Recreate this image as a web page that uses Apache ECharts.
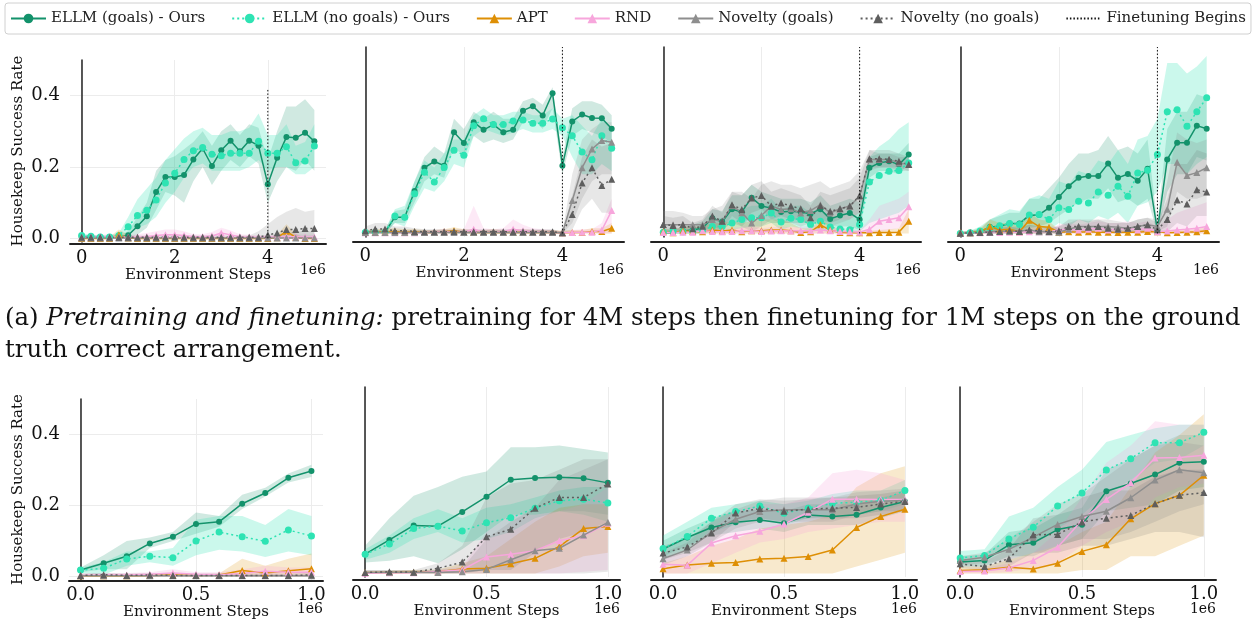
<!DOCTYPE html>
<html lang="en">
<head>
<meta charset="UTF-8">
<script src="https://cdn.jsdelivr.net/npm/echarts@6/dist/echarts.min.js"></script>
<style>html,body{margin:0;padding:0;background:#fff;}</style>
</head>
<body>
<div id="main" style="width:1256px;height:623px;"></div>
<script type="text/javascript">
// environment steps (x 1e6)
var stepsPre = [0,0.2,0.4,0.6,0.8,1,1.2,1.4,1.6,1.8,2,2.2,2.4,2.6,2.8,3,3.2,3.4,3.6,3.8,4,4.2,4.4,4.6,4.8,5];
var stepsFt = [0,0.1,0.2,0.3,0.4,0.5,0.6,0.7,0.8,0.9,1];
var zeroPre = [0,0,0,0,0,0,0,0,0,0,0,0,0,0,0,0,0,0,0,0,0,0,0,0,0,0];
var zeroFt = [0,0,0,0,0,0,0,0,0,0,0];
var finetuneStep = 4;
var finetuneTop = [0.42, 0.536, 0.536, 0.536];

// ---- (a) pretraining + finetuning, panel 1
var a1Goals = [0.005,0.004,0.003,0.003,0.003,0.009,0.034,0.062,0.130,0.172,0.172,0.178,0.221,0.252,0.203,0.247,0.274,0.244,0.274,0.260,0.152,0.226,0.284,0.282,0.296,0.272];
var a1GoalsLo = [0.001,0.001,0,0,0,0,0.01,0.03,0.08,0.13,0.12,0.10,0.16,0.20,0.15,0.19,0.22,0.20,0.23,0.21,0.10,0.16,0.20,0.19,0.22,0.19];
var a1GoalsHi = [0.01,0.008,0.006,0.006,0.008,0.02,0.06,0.10,0.19,0.22,0.23,0.25,0.27,0.30,0.26,0.30,0.32,0.29,0.32,0.31,0.22,0.30,0.37,0.37,0.39,0.36];
var a1NoGoals = [0.008,0.006,0.004,0.004,0.008,0.033,0.064,0.079,0.108,0.155,0.183,0.221,0.246,0.255,0.236,0.232,0.239,0.239,0.239,0.272,0.239,0.239,0.257,0.212,0.217,0.259];
var a1NoGoalsLo = [0.004,0.003,0.002,0.002,0.003,0.01,0.03,0.04,0.06,0.10,0.13,0.17,0.20,0.21,0.19,0.19,0.19,0.19,0.20,0.22,0.19,0.20,0.20,0.18,0.18,0.20];
var a1NoGoalsHi = [0.014,0.01,0.008,0.008,0.015,0.06,0.11,0.14,0.17,0.22,0.25,0.28,0.30,0.31,0.29,0.29,0.30,0.30,0.31,0.35,0.29,0.29,0.32,0.26,0.27,0.32];
var a1Apt = [0,0,0,0,0.01,0.001,0,0,0,0,0,0,0,0,0,0,0,0,0,0,0,0.002,0.02,0.003,0,0];
var a1AptHi = [0.003,0.003,0.003,0.005,0.025,0.01,0.003,0.003,0.003,0.003,0.003,0.003,0.003,0.003,0.003,0.003,0.003,0.003,0.003,0.003,0.003,0.01,0.04,0.012,0.003,0.003];
var a1Rnd = [0.003,0.003,0.004,0.004,0.004,0.003,0.004,0.005,0.008,0.01,0.01,0.008,0.005,0.005,0.007,0.015,0.01,0.005,0.004,0.003,0.004,0.004,0.005,0.005,0.004,0.004];
var a1RndHi = [0.008,0.008,0.01,0.012,0.012,0.01,0.012,0.015,0.02,0.025,0.025,0.02,0.012,0.012,0.018,0.03,0.022,0.012,0.01,0.008,0.01,0.01,0.012,0.012,0.01,0.01];
var a1NovG = [0.001,0.001,0.001,0.001,0.001,0.001,0.001,0.001,0.001,0.001,0.001,0.001,0.001,0.001,0.001,0.001,0.001,0.001,0.001,0.001,0.001,0.001,0.001,0.001,0.001,0.001];
var a1NovGHi = [0.004,0.004,0.004,0.004,0.004,0.004,0.004,0.004,0.004,0.004,0.004,0.004,0.004,0.004,0.004,0.004,0.004,0.004,0.004,0.004,0.006,0.01,0.015,0.02,0.02,0.02];
var a1NovN = [0.003,0.003,0.003,0.003,0.003,0.003,0.003,0.003,0.003,0.003,0.004,0.003,0.003,0.003,0.004,0.003,0.003,0.003,0.003,0.003,0.01,0.015,0.025,0.025,0.028,0.028];
var a1NovNHi = [0.008,0.008,0.008,0.008,0.008,0.008,0.008,0.008,0.008,0.008,0.01,0.008,0.008,0.008,0.01,0.008,0.008,0.008,0.008,0.02,0.04,0.06,0.075,0.085,0.075,0.08];

// panel 2
var a2Goals = [0.004,0.004,0.004,0.047,0.047,0.122,0.189,0.207,0.195,0.291,0.26,0.32,0.298,0.313,0.291,0.298,0.353,0.366,0.339,0.403,0.195,0.322,0.342,0.332,0.331,0.301];
var a2GoalsLo = [0.001,0.001,0.001,0.03,0.03,0.09,0.15,0.17,0.16,0.25,0.22,0.28,0.26,0.27,0.26,0.27,0.32,0.33,0.30,0.36,0.17,0.28,0.30,0.29,0.28,0.26];
var a2GoalsHi = [0.008,0.008,0.01,0.065,0.07,0.15,0.22,0.25,0.23,0.33,0.30,0.35,0.33,0.35,0.33,0.33,0.38,0.39,0.37,0.42,0.22,0.36,0.38,0.38,0.37,0.34];
var a2NoGoals = [0.003,0.003,0.004,0.05,0.047,0.114,0.176,0.148,0.19,0.239,0.225,0.31,0.33,0.313,0.313,0.323,0.326,0.317,0.317,0.329,0.304,0.281,0.234,0.212,0.281,0.245];
var a2NoGoalsLo = [0.001,0.001,0.001,0.03,0.02,0.08,0.13,0.12,0.15,0.20,0.19,0.28,0.30,0.29,0.28,0.29,0.30,0.29,0.29,0.30,0.28,0.22,0.17,0.17,0.20,0.18];
var a2NoGoalsHi = [0.008,0.008,0.01,0.07,0.08,0.15,0.21,0.19,0.23,0.27,0.27,0.34,0.36,0.34,0.34,0.35,0.35,0.34,0.34,0.36,0.33,0.34,0.31,0.28,0.33,0.30];
var a2Apt = [0.003,0.004,0.005,0.006,0.004,0.005,0.003,0.003,0.005,0.008,0.004,0.003,0.003,0.004,0.003,0.003,0.004,0.003,0.003,0.003,0.002,0.003,0.003,0.006,0.006,0.015];
var a2AptHi = [0.01,0.012,0.014,0.015,0.012,0.012,0.01,0.01,0.012,0.018,0.012,0.01,0.01,0.012,0.01,0.01,0.012,0.01,0.01,0.01,0.008,0.01,0.01,0.015,0.015,0.03];
var a2Rnd = [0.002,0.002,0.002,0.002,0.002,0.002,0.003,0.004,0.005,0.004,0.004,0.012,0.004,0.004,0.005,0.012,0.008,0.005,0.004,0.003,0.002,0.003,0.004,0.004,0.01,0.066];
var a2RndHi = [0.006,0.006,0.006,0.006,0.006,0.006,0.008,0.01,0.012,0.01,0.012,0.08,0.015,0.012,0.015,0.04,0.025,0.015,0.012,0.01,0.006,0.01,0.012,0.012,0.03,0.10];
var a2NovG = [0.003,0.003,0.003,0.003,0.003,0.003,0.003,0.003,0.003,0.003,0.003,0.003,0.003,0.003,0.003,0.003,0.003,0.003,0.003,0.003,0.002,0.095,0.189,0.243,0.267,0.262];
var a2NovGLo = [0,0,0,0,0,0,0,0,0,0,0,0,0,0,0,0,0,0,0,0,0,0.03,0.10,0.15,0.17,0.17];
var a2NovGHi = [0.01,0.01,0.01,0.01,0.01,0.01,0.01,0.01,0.01,0.01,0.01,0.01,0.01,0.01,0.01,0.01,0.01,0.01,0.01,0.01,0.005,0.17,0.27,0.30,0.32,0.32];
var a2NovN = [0.008,0.013,0.013,0.008,0.008,0.006,0.005,0.005,0.005,0.006,0.005,0.005,0.005,0.005,0.005,0.005,0.005,0.005,0.005,0.005,0.002,0.055,0.145,0.189,0.138,0.156];
var a2NovNLo = [0.002,0.004,0.004,0.002,0.002,0.001,0.001,0.001,0.001,0.001,0.001,0.001,0.001,0.001,0.001,0.001,0.001,0.001,0.001,0.001,0,0.01,0.07,0.10,0.06,0.06];
var a2NovNHi = [0.02,0.03,0.03,0.02,0.02,0.015,0.012,0.012,0.012,0.012,0.012,0.012,0.012,0.012,0.012,0.012,0.012,0.012,0.012,0.012,0.005,0.11,0.22,0.27,0.25,0.26];

// panel 3
var a3Goals = [0.002,0.002,0.007,0.01,0.016,0.044,0.034,0.07,0.062,0.103,0.079,0.073,0.062,0.064,0.062,0.057,0.07,0.042,0.052,0.059,0.04,0.189,0.203,0.208,0.198,0.227];
var a3GoalsLo = [0,0,0,0,0,0.01,0.01,0.03,0.02,0.05,0.04,0.03,0.03,0.03,0.03,0.03,0.03,0.02,0.02,0.02,0.01,0.16,0.18,0.18,0.17,0.20];
var a3GoalsHi = [0.01,0.01,0.02,0.025,0.035,0.07,0.065,0.11,0.11,0.14,0.12,0.11,0.10,0.10,0.10,0.09,0.11,0.08,0.09,0.10,0.09,0.22,0.23,0.23,0.23,0.26];
var a3NoGoals = [0.004,0.007,0.005,0.006,0.01,0.02,0.02,0.03,0.04,0.045,0.045,0.059,0.033,0.044,0.04,0.026,0.035,0.019,0.013,0.011,0.026,0.148,0.167,0.179,0.181,0.203];
var a3NoGoalsLo = [0,0,0,0,0,0.005,0.005,0.01,0.015,0.02,0.02,0.03,0.01,0.02,0.015,0.005,0.01,0.003,0.002,0.002,0.005,0.03,0.04,0.05,0.06,0.08];
var a3NoGoalsHi = [0.012,0.015,0.012,0.015,0.025,0.04,0.045,0.06,0.07,0.08,0.08,0.10,0.07,0.08,0.08,0.06,0.07,0.05,0.04,0.04,0.06,0.22,0.25,0.27,0.30,0.32];
var a3Apt = [0.005,0.002,0.008,0.006,0.005,0.01,0.007,0.01,0.005,0.008,0.008,0.01,0.01,0.008,0.003,0.005,0.025,0.01,0.003,0.002,0.002,0.002,0.003,0.003,0.004,0.035];
var a3AptHi = [0.015,0.01,0.02,0.02,0.02,0.03,0.03,0.035,0.03,0.035,0.04,0.04,0.04,0.03,0.015,0.015,0.04,0.025,0.01,0.008,0.008,0.008,0.01,0.012,0.015,0.07];
var a3Rnd = [0.003,0.003,0.004,0.004,0.008,0.006,0.005,0.006,0.008,0.008,0.006,0.007,0.008,0.007,0.008,0.008,0.01,0.008,0.006,0.005,0.004,0.012,0.035,0.04,0.045,0.077];
var a3RndLo = [0,0,0,0,0,0,0,0,0,0,0,0,0,0,0,0,0,0,0,0,0,0,0.005,0.01,0.015,0.03];
var a3RndHi = [0.01,0.01,0.012,0.012,0.02,0.015,0.015,0.015,0.02,0.02,0.015,0.018,0.02,0.018,0.02,0.02,0.025,0.02,0.015,0.012,0.01,0.04,0.08,0.09,0.10,0.12];
var a3NovG = [0.025,0.025,0.025,0.025,0.025,0.04,0.035,0.08,0.06,0.03,0.052,0.079,0.069,0.071,0.059,0.066,0.083,0.059,0.071,0.079,0.107,0.213,0.213,0.213,0.203,0.198];
var a3NovGLo = [0.005,0.005,0.005,0.005,0.005,0.01,0.01,0.04,0.02,0.005,0.02,0.04,0.03,0.03,0.02,0.03,0.04,0.02,0.03,0.04,0.06,0.18,0.19,0.19,0.18,0.18];
var a3NovGHi = [0.065,0.065,0.06,0.05,0.05,0.07,0.08,0.12,0.12,0.10,0.14,0.15,0.14,0.14,0.13,0.14,0.15,0.13,0.14,0.15,0.18,0.24,0.23,0.23,0.22,0.22];
var a3NovN = [0.026,0.023,0.026,0.014,0.021,0.05,0.035,0.083,0.069,0.102,0.109,0.079,0.088,0.079,0.071,0.045,0.08,0.064,0.071,0.079,0.109,0.215,0.215,0.213,0.208,0.198];
var a3NovNLo = [0.005,0.005,0.005,0.003,0.005,0.02,0.01,0.05,0.03,0.06,0.07,0.04,0.05,0.04,0.04,0.02,0.04,0.03,0.04,0.04,0.06,0.19,0.19,0.19,0.19,0.18];
var a3NovNHi = [0.05,0.045,0.05,0.03,0.04,0.08,0.06,0.12,0.11,0.14,0.15,0.12,0.13,0.12,0.11,0.08,0.12,0.11,0.12,0.13,0.16,0.24,0.24,0.24,0.23,0.22];

// panel 4
var a4Goals = [0,0.002,0.004,0.019,0.021,0.029,0.029,0.052,0.054,0.074,0.105,0.136,0.16,0.165,0.165,0.201,0.16,0.171,0.152,0.186,0.009,0.213,0.261,0.261,0.31,0.301];
var a4GoalsLo = [0,0,0,0.005,0.005,0.01,0.01,0.02,0.02,0.03,0.05,0.07,0.09,0.10,0.10,0.13,0.09,0.10,0.08,0.10,0,0.12,0.17,0.17,0.22,0.21];
var a4GoalsHi = [0.003,0.006,0.01,0.04,0.05,0.06,0.06,0.10,0.10,0.13,0.16,0.20,0.23,0.23,0.24,0.28,0.24,0.25,0.23,0.27,0.03,0.30,0.35,0.35,0.40,0.39];
var a4NoGoals = [0,0.002,0.007,0.016,0.022,0.029,0.026,0.053,0.055,0.04,0.074,0.069,0.093,0.088,0.119,0.11,0.136,0.107,0.174,0.182,0.227,0.35,0.356,0.308,0.35,0.39];
var a4NoGoalsLo = [0,0,0,0.003,0.005,0.008,0.008,0.015,0.02,0.01,0.03,0.02,0.04,0.03,0.05,0.04,0.06,0.03,0.08,0.09,0.12,0.20,0.20,0.17,0.20,0.22];
var a4NoGoalsHi = [0.003,0.008,0.02,0.04,0.055,0.07,0.065,0.10,0.11,0.10,0.15,0.14,0.18,0.17,0.21,0.20,0.24,0.20,0.27,0.28,0.33,0.49,0.49,0.46,0.48,0.51];
var a4Apt = [0.002,0.002,0.005,0.02,0.01,0.012,0.005,0.038,0.02,0.018,0.004,0.005,0.004,0.005,0.004,0.004,0.003,0.004,0.004,0.006,0.005,0.002,0.003,0.004,0.005,0.008];
var a4AptHi = [0.005,0.008,0.015,0.04,0.03,0.03,0.02,0.06,0.04,0.035,0.01,0.012,0.01,0.012,0.01,0.01,0.008,0.01,0.01,0.012,0.01,0.006,0.008,0.01,0.012,0.018];
var a4Rnd = [0.001,0.002,0.002,0.003,0.003,0.004,0.004,0.005,0.005,0.005,0.01,0.012,0.01,0.012,0.015,0.01,0.012,0.015,0.01,0.015,0.005,0.007,0.01,0.012,0.015,0.02];
var a4RndHi = [0.004,0.005,0.006,0.008,0.008,0.01,0.01,0.012,0.012,0.012,0.025,0.03,0.025,0.03,0.035,0.03,0.03,0.035,0.03,0.035,0.02,0.04,0.06,0.07,0.08,0.09];
var a4NovG = [0.001,0.002,0.003,0.005,0.006,0.006,0.007,0.01,0.005,0.006,0.004,0.012,0.02,0.02,0.02,0.02,0.018,0.015,0.02,0.025,0.02,0.07,0.205,0.167,0.175,0.189];
var a4NovGLo = [0,0,0,0,0,0,0,0,0,0,0,0.002,0.005,0.005,0.005,0.005,0.005,0.005,0.005,0.008,0.005,0.02,0.12,0.10,0.10,0.11];
var a4NovGHi = [0.005,0.008,0.01,0.015,0.02,0.02,0.02,0.025,0.02,0.02,0.02,0.03,0.04,0.04,0.04,0.04,0.035,0.03,0.04,0.045,0.04,0.15,0.29,0.27,0.26,0.27];
var a4NovN = [0.001,0.002,0.003,0.004,0.006,0.008,0.006,0.01,0.008,0.005,0.008,0.02,0.02,0.018,0.02,0.015,0.012,0.015,0.02,0.025,0.011,0.04,0.096,0.085,0.126,0.119];
var a4NovNLo = [0,0,0,0,0,0,0,0,0,0,0,0.005,0.005,0.005,0.005,0.003,0.003,0.003,0.005,0.008,0.002,0.005,0.03,0.02,0.05,0.05];
var a4NovNHi = [0.005,0.008,0.01,0.012,0.015,0.02,0.015,0.025,0.02,0.015,0.02,0.04,0.04,0.035,0.04,0.03,0.03,0.03,0.04,0.045,0.03,0.10,0.20,0.20,0.24,0.23];

// ---- finetuning only, panel 1
var b1Goals = [0.018,0.037,0.057,0.093,0.112,0.148,0.154,0.205,0.235,0.278,0.297];
var b1GoalsLo = [0.012,0.02,0.02,0.08,0.10,0.12,0.14,0.19,0.225,0.265,0.28];
var b1GoalsHi = [0.025,0.06,0.10,0.11,0.125,0.18,0.17,0.23,0.25,0.29,0.315];
var b1NoGoals = [0.018,0.023,0.049,0.057,0.053,0.10,0.125,0.112,0.099,0.131,0.114];
var b1NoGoalsLo = [0.01,0.005,0.03,0.04,0.03,0.06,0.075,0.07,0.055,0.07,0.06];
var b1NoGoalsHi = [0.025,0.04,0.07,0.07,0.08,0.16,0.17,0.17,0.145,0.19,0.17];
var b1Apt = [0.002,0.002,0.002,0.003,0.004,0.003,0.004,0.017,0.01,0.016,0.022];
var b1AptHi = [0.005,0.005,0.005,0.006,0.008,0.006,0.008,0.05,0.03,0.05,0.065];
var b1Rnd = [0.003,0.004,0.004,0.006,0.01,0.006,0.005,0.008,0.015,0.012,0.012];
var b1RndHi = [0.008,0.01,0.01,0.012,0.02,0.012,0.012,0.02,0.03,0.025,0.025];
var b1NovG = [0.002,0.002,0.002,0.002,0.002,0.002,0.002,0.002,0.002,0.002,0.002];
var b1NovGHi = [0.005,0.005,0.005,0.005,0.005,0.005,0.005,0.005,0.005,0.005,0.005];
var b1NovN = [0.003,0.005,0.003,0.004,0.003,0.003,0.003,0.003,0.003,0.003,0.004];
var b1NovNHi = [0.008,0.01,0.008,0.01,0.008,0.008,0.008,0.008,0.008,0.008,0.01];

// panel 2
var b2Goals = [0.056,0.097,0.139,0.137,0.178,0.222,0.271,0.276,0.278,0.275,0.262];
var b2GoalsLo = [0.032,0.037,0.05,0.03,0.07,0.12,0.17,0.17,0.18,0.18,0.17];
var b2GoalsHi = [0.08,0.16,0.225,0.25,0.28,0.295,0.365,0.365,0.37,0.36,0.35];
var b2NoGoals = [0.056,0.085,0.13,0.137,0.123,0.147,0.161,0.189,0.21,0.215,0.204];
var b2NoGoalsLo = [0.04,0.06,0.10,0.12,0.09,0.10,0.12,0.16,0.18,0.17,0.15];
var b2NoGoalsHi = [0.07,0.11,0.16,0.186,0.16,0.19,0.20,0.22,0.24,0.25,0.25];
var b2Apt = [0.003,0.003,0.004,0.005,0.013,0.015,0.028,0.044,0.078,0.13,0.136];
var b2AptLo = [0,0,0,0,0,0,0,0,0.02,0.05,0.06];
var b2AptHi = [0.005,0.008,0.01,0.012,0.03,0.05,0.10,0.15,0.19,0.20,0.20];
var b2Rnd = [0.001,0.002,0.002,0.006,0.011,0.048,0.056,0.066,0.095,0.109,0.145];
var b2RndLo = [0,0,0,0,0,0,0,0,0,0.005,0.01];
var b2RndHi = [0.005,0.005,0.006,0.01,0.02,0.12,0.17,0.17,0.18,0.20,0.25];
var b2NovG = [0.003,0.004,0.004,0.003,0.005,0.012,0.04,0.066,0.073,0.111,0.148];
var b2NovGLo = [0,0,0,0,0,0,0,0,0,0,0.005];
var b2NovGHi = [0.01,0.01,0.01,0.01,0.015,0.10,0.15,0.19,0.27,0.30,0.33];
var b2NovN = [0.003,0.005,0.004,0.015,0.033,0.106,0.128,0.189,0.22,0.22,0.259];
var b2NovNLo = [0,0,0,0,0,0.01,0.01,0.06,0.10,0.12,0.15];
var b2NovNHi = [0.01,0.01,0.01,0.03,0.08,0.22,0.26,0.27,0.30,0.33,0.33];

// panel 3
var b3Goals = [0.071,0.104,0.133,0.148,0.155,0.145,0.169,0.165,0.17,0.191,0.208];
var b3GoalsLo = [0.05,0.08,0.11,0.12,0.13,0.12,0.14,0.14,0.14,0.16,0.18];
var b3GoalsHi = [0.095,0.13,0.16,0.18,0.185,0.18,0.20,0.20,0.20,0.22,0.235];
var b3NoGoals = [0.072,0.107,0.16,0.179,0.195,0.174,0.189,0.203,0.206,0.211,0.24];
var b3NoGoalsLo = [0.04,0.07,0.12,0.14,0.16,0.14,0.16,0.17,0.17,0.18,0.20];
var b3NoGoalsHi = [0.11,0.15,0.19,0.20,0.21,0.20,0.21,0.23,0.24,0.24,0.27];
var b3Apt = [0.014,0.025,0.03,0.032,0.042,0.044,0.049,0.068,0.133,0.165,0.186];
var b3AptLo = [0,0,0,0,0,0,0,0,0.02,0.04,0.06];
var b3AptHi = [0.03,0.05,0.08,0.10,0.13,0.14,0.15,0.17,0.25,0.29,0.31];
var b3Rnd = [0.027,0.024,0.088,0.109,0.122,0.143,0.177,0.215,0.215,0.214,0.214];
var b3RndLo = [0,0,0.03,0.06,0.09,0.10,0.12,0.13,0.14,0.15,0.15];
var b3RndHi = [0.05,0.06,0.13,0.18,0.20,0.20,0.22,0.29,0.30,0.29,0.27];
var b3NovG = [0.043,0.068,0.119,0.157,0.179,0.184,0.184,0.184,0.201,0.209,0.211];
var b3NovGLo = [0.025,0.05,0.09,0.13,0.15,0.15,0.15,0.15,0.17,0.18,0.18];
var b3NovGHi = [0.06,0.09,0.15,0.185,0.21,0.22,0.22,0.22,0.235,0.24,0.245];
var b3NovN = [0.059,0.077,0.117,0.175,0.188,0.18,0.186,0.189,0.191,0.201,0.208];
var b3NovNLo = [0.04,0.06,0.09,0.15,0.16,0.15,0.16,0.16,0.16,0.17,0.18];
var b3NovNHi = [0.08,0.10,0.15,0.20,0.215,0.21,0.215,0.22,0.225,0.23,0.24];

// panel 4
var b4Goals = [0.033,0.038,0.083,0.089,0.127,0.141,0.238,0.26,0.286,0.32,0.323];
var b4GoalsLo = [0.02,0.02,0.05,0.05,0.08,0.10,0.18,0.19,0.20,0.24,0.25];
var b4GoalsHi = [0.05,0.055,0.12,0.13,0.17,0.19,0.30,0.33,0.37,0.40,0.40];
var b4NoGoals = [0.045,0.052,0.10,0.134,0.195,0.233,0.299,0.332,0.378,0.378,0.408];
var b4NoGoalsLo = [0.03,0.04,0.07,0.09,0.13,0.17,0.23,0.27,0.32,0.33,0.37];
var b4NoGoalsHi = [0.065,0.07,0.165,0.19,0.25,0.30,0.38,0.40,0.42,0.43,0.43];
var b4Apt = [0.009,0.011,0.018,0.013,0.03,0.064,0.083,0.158,0.202,0.226,0.284];
var b4AptLo = [0,0,0,0,0,0.01,0.01,0.05,0.05,0.08,0.11];
var b4AptHi = [0.02,0.02,0.04,0.06,0.08,0.12,0.15,0.25,0.35,0.40,0.46];
var b4Rnd = [0.006,0.007,0.016,0.038,0.076,0.154,0.214,0.262,0.334,0.335,0.342];
var b4RndLo = [0,0,0.005,0.015,0.03,0.08,0.12,0.15,0.22,0.25,0.26];
var b4RndHi = [0.012,0.015,0.03,0.06,0.12,0.22,0.32,0.37,0.44,0.43,0.43];
var b4NovG = [0.038,0.047,0.07,0.105,0.142,0.165,0.18,0.219,0.27,0.30,0.291];
var b4NovGLo = [0.025,0.03,0.04,0.06,0.08,0.10,0.10,0.12,0.15,0.18,0.20];
var b4NovGHi = [0.05,0.06,0.10,0.15,0.20,0.23,0.28,0.33,0.37,0.38,0.37];
var b4NovN = [0.028,0.02,0.043,0.112,0.113,0.149,0.16,0.168,0.202,0.226,0.234];
var b4NovNLo = [0.015,0.01,0.02,0.06,0.06,0.08,0.08,0.10,0.12,0.12,0.105];
var b4NovNHi = [0.04,0.035,0.07,0.16,0.17,0.22,0.24,0.24,0.28,0.30,0.30];

var methods = [
    {name: 'ELLM (goals) - Ours',    color: '#13926b', symbol: 'circle',   size: 6, dash: 'solid', band: 0.2},
    {name: 'ELLM (no goals) - Ours', color: '#2ee3b3', symbol: 'circle',   size: 7, dash: [2, 3],  band: 0.25},
    {name: 'APT',                    color: '#de8f05', symbol: 'triangle', size: 7, dash: 'solid', band: 0.2},
    {name: 'RND',                    color: '#f7a6dc', symbol: 'triangle', size: 7, dash: 'solid', band: 0.25},
    {name: 'Novelty (goals)',        color: '#8e8e8e', symbol: 'triangle', size: 7, dash: 'solid', band: 0.2},
    {name: 'Novelty (no goals)',     color: '#5e5e5e', symbol: 'triangle', size: 7, dash: [2, 3],  band: 0.15}
];

var panels = [
    {x: stepsPre, rows: [[a1Goals,a1GoalsLo,a1GoalsHi],[a1NoGoals,a1NoGoalsLo,a1NoGoalsHi],[a1Apt,zeroPre,a1AptHi],[a1Rnd,zeroPre,a1RndHi],[a1NovG,zeroPre,a1NovGHi],[a1NovN,zeroPre,a1NovNHi]]},
    {x: stepsPre, rows: [[a2Goals,a2GoalsLo,a2GoalsHi],[a2NoGoals,a2NoGoalsLo,a2NoGoalsHi],[a2Apt,zeroPre,a2AptHi],[a2Rnd,zeroPre,a2RndHi],[a2NovG,a2NovGLo,a2NovGHi],[a2NovN,a2NovNLo,a2NovNHi]]},
    {x: stepsPre, rows: [[a3Goals,a3GoalsLo,a3GoalsHi],[a3NoGoals,a3NoGoalsLo,a3NoGoalsHi],[a3Apt,zeroPre,a3AptHi],[a3Rnd,a3RndLo,a3RndHi],[a3NovG,a3NovGLo,a3NovGHi],[a3NovN,a3NovNLo,a3NovNHi]]},
    {x: stepsPre, rows: [[a4Goals,a4GoalsLo,a4GoalsHi],[a4NoGoals,a4NoGoalsLo,a4NoGoalsHi],[a4Apt,zeroPre,a4AptHi],[a4Rnd,zeroPre,a4RndHi],[a4NovG,a4NovGLo,a4NovGHi],[a4NovN,a4NovNLo,a4NovNHi]]},
    {x: stepsFt, rows: [[b1Goals,b1GoalsLo,b1GoalsHi],[b1NoGoals,b1NoGoalsLo,b1NoGoalsHi],[b1Apt,zeroFt,b1AptHi],[b1Rnd,zeroFt,b1RndHi],[b1NovG,zeroFt,b1NovGHi],[b1NovN,zeroFt,b1NovNHi]]},
    {x: stepsFt, rows: [[b2Goals,b2GoalsLo,b2GoalsHi],[b2NoGoals,b2NoGoalsLo,b2NoGoalsHi],[b2Apt,b2AptLo,b2AptHi],[b2Rnd,b2RndLo,b2RndHi],[b2NovG,b2NovGLo,b2NovGHi],[b2NovN,b2NovNLo,b2NovNHi]]},
    {x: stepsFt, rows: [[b3Goals,b3GoalsLo,b3GoalsHi],[b3NoGoals,b3NoGoalsLo,b3NoGoalsHi],[b3Apt,b3AptLo,b3AptHi],[b3Rnd,b3RndLo,b3RndHi],[b3NovG,b3NovGLo,b3NovGHi],[b3NovN,b3NovNLo,b3NovNHi]]},
    {x: stepsFt, rows: [[b4Goals,b4GoalsLo,b4GoalsHi],[b4NoGoals,b4NoGoalsLo,b4NoGoalsHi],[b4Apt,b4AptLo,b4AptHi],[b4Rnd,b4RndLo,b4RndHi],[b4NovG,b4NovGLo,b4NovGHi],[b4NovN,b4NovNLo,b4NovNHi]]}
];

// layout of the 8 panels (pixels)
var layout = [
    {left: 70,  top: 60,  width: 256, height: 182, ymax: 0.5,   yOff: 7, xOff: 2, ylab: true,  pre: true},
    {left: 353, top: 47,  width: 271, height: 190, ymax: 0.536, yOff: 6, xOff: 5, ylab: false, pre: true},
    {left: 651, top: 47,  width: 270, height: 190, ymax: 0.536, yOff: 8, xOff: 5, ylab: false, pre: true},
    {left: 948, top: 47,  width: 271, height: 190, ymax: 0.536, yOff: 6, xOff: 5, ylab: false, pre: true},
    {left: 69,  top: 399, width: 254, height: 181, ymax: 0.5,   yOff: 6, xOff: 1, ylab: true,  pre: false},
    {left: 353, top: 387, width: 267, height: 190, ymax: 0.539, yOff: 6, xOff: 3, ylab: false, pre: false},
    {left: 651, top: 387, width: 266, height: 190, ymax: 0.539, yOff: 7, xOff: 3, ylab: false, pre: false},
    {left: 948, top: 387, width: 268, height: 190, ymax: 0.539, yOff: 6, xOff: 3, ylab: false, pre: false}
];

var serif = 'DejaVu Serif';
var grids = [], xAxes = [], yAxes = [], series = [], graphics = [];

function bandSeries(gi, xs, lo, hi, color, op) {
    return {
        type: 'custom', xAxisIndex: gi, yAxisIndex: gi, silent: true, z: 1,
        data: [[xs[0], lo[0]]],
        renderItem: function (params, api) {
            var pts = [];
            for (var i = 0; i < xs.length; i++) pts.push(api.coord([xs[i], hi[i]]));
            for (var j = xs.length - 1; j >= 0; j--) pts.push(api.coord([xs[j], lo[j]]));
            return {type: 'polygon', shape: {points: pts}, style: {fill: color, opacity: op}};
        }
    };
}

layout.forEach(function (L, gi) {
    grids.push({left: L.left, top: L.top, width: L.width, height: L.height, containLabel: false});
    var xt = L.pre ? [0, 2, 4] : [0, 0.5, 1];
    xAxes.push({
        type: 'value', gridIndex: gi,
        min: L.pre ? -0.25 : -0.05, max: L.pre ? 5.25 : 1.05,
        offset: L.xOff,
        axisLine: {show: true, onZero: false, lineStyle: {color: '#222', width: 2}},
        axisTick: {show: false, customValues: xt},
        axisLabel: {customValues: xt, margin: 5, fontFamily: serif, fontSize: 18, color: '#111',
            formatter: function (v) { return L.pre ? String(v) : v.toFixed(1); }},
        splitLine: {show: true, lineStyle: {color: '#ececec', width: 1}},
        name: 'Environment Steps', nameLocation: 'middle', nameGap: L.pre ? 22 : 24,
        nameTextStyle: {fontFamily: serif, fontSize: 15, color: '#111'}
    });
    var yt = [0, 0.2, 0.4];
    yAxes.push({
        type: 'value', gridIndex: gi, min: -0.01, max: L.ymax,
        offset: L.yOff,
        axisLine: {show: true, lineStyle: {color: '#222', width: 1.5}},
        axisTick: {show: false, customValues: yt},
        axisLabel: {show: L.ylab, customValues: yt, margin: 3, fontFamily: serif, fontSize: 18, color: '#111',
            formatter: function (v) { return v.toFixed(1); }},
        splitLine: {show: L.ylab, lineStyle: {color: '#ececec', width: 1}},
        name: L.ylab ? 'Housekeep Success Rate' : '', nameLocation: 'middle', nameGap: 37,
        nameTextStyle: {fontFamily: serif, fontSize: 15, color: '#111'}
    });
    graphics.push({
        type: 'text', right: 1256 - (L.left + L.width), top: L.pre ? 263 : 602,
        style: {text: '1e6', fontFamily: serif, fontSize: 14, fill: '#111'}
    });

    var P = panels[gi];
    methods.forEach(function (m, k) {
        series.push(bandSeries(gi, P.x, P.rows[k][1], P.rows[k][2], m.color, m.band));
    });
    methods.forEach(function (m, k) {
        var mean = P.rows[k][0];
        series.push({
            type: 'line', name: m.name, xAxisIndex: gi, yAxisIndex: gi, z: 3,
            data: P.x.map(function (x, i) { return [x, mean[i]]; }),
            symbol: m.symbol, symbolSize: m.size, showSymbol: true, showAllSymbol: true,
            lineStyle: {color: m.color, width: 1.5, type: m.dash},
            itemStyle: {color: m.color},
            emphasis: {disabled: true}, silent: true
        });
    });
    if (L.pre) {
        series.push({
            type: 'line', name: 'Finetuning Begins', xAxisIndex: gi, yAxisIndex: gi, z: 4,
            data: [[finetuneStep, 0], [finetuneStep, finetuneTop[gi]]],
            symbol: 'none', lineStyle: {color: '#111', width: 1, type: [1.5, 2]},
            itemStyle: {color: 'rgba(0,0,0,0)'}, emphasis: {disabled: true}, silent: true
        });
    }
});

graphics.push({
    type: 'text', left: 5, top: 307,
    style: {
        text: '{n|(a) }{i|Pretraining and finetuning:}{n| pretraining for 4M steps then finetuning for 1M steps on the ground}',
        rich: {
            n: {fontFamily: serif, fontSize: 24.4, fill: '#111'},
            i: {fontFamily: serif, fontSize: 24.4, fontStyle: 'italic', fill: '#111'}
        }
    }
});
graphics.push({
    type: 'text', left: 5, top: 339,
    style: {text: 'truth correct arrangement.', fontFamily: serif, fontSize: 24.4, fill: '#111'}
});

var chart = echarts.init(document.getElementById('main'));
chart.setOption({
    animation: false,
    backgroundColor: '#fff',
    legend: {
        data: methods.map(function (m) { return m.name; }).concat(['Finetuning Begins']),
        left: 5, top: 3, padding: [8, 5], itemGap: 26, itemWidth: 35, itemHeight: 12,
        borderColor: '#d0d0d0', borderWidth: 1, borderRadius: 3,
        textStyle: {fontFamily: serif, fontSize: 15, color: '#222'}
    },
    grid: grids,
    xAxis: xAxes,
    yAxis: yAxes,
    series: series,
    graphic: graphics
});
</script>
</body>
</html>
